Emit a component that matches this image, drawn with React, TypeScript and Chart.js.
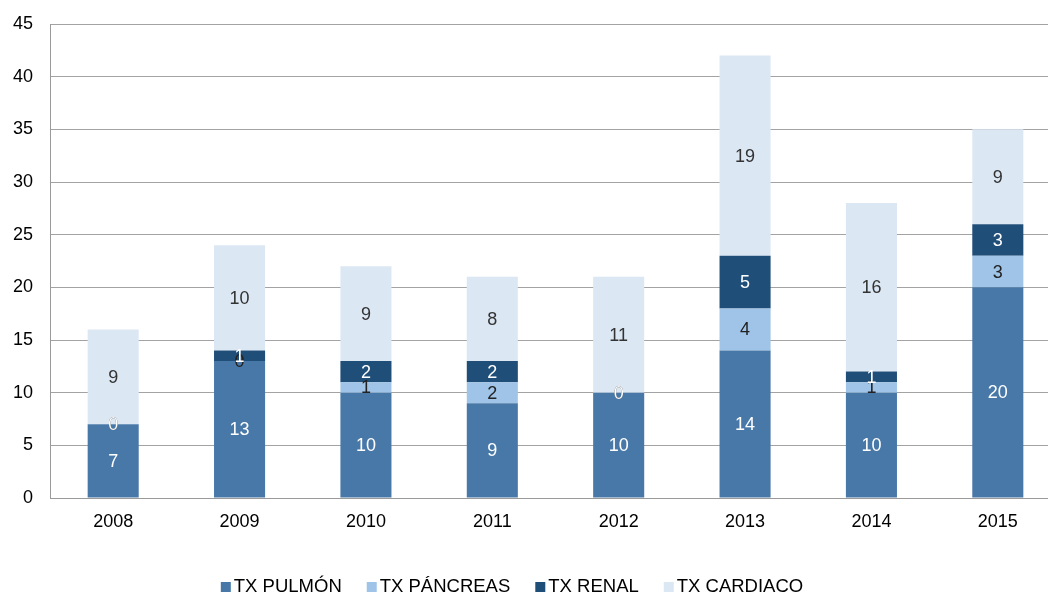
import React, { useEffect, useRef } from "react";
import { Chart, registerables } from "chart.js";

Chart.register(...registerables);

const years = ["2008", "2009", "2010", "2011", "2012", "2013", "2014", "2015"];
const pulmon = [7, 13, 10, 9, 10, 14, 10, 20];
const pancreas = [0, 0, 1, 2, 0, 4, 1, 3];
const renal = [0, 1, 2, 2, 0, 5, 1, 3];
const cardiaco = [9, 10, 9, 8, 11, 19, 16, 9];
const seriesNames = ["TX PULMÓN", "TX PÁNCREAS", "TX RENAL", "TX CARDIACO"];
const seriesColors = ["#4878A8", "#9FC4E7", "#1F4E79", "#DCE7F4"];
const labelColors = ["#ffffff", "#222222", "#ffffff", "#333333"];
const yTicks = [0, 5, 10, 15, 20, 25, 30, 35, 40, 45];

const FONT = "'Liberation Sans', Arial, Helvetica, sans-serif";

const valueLabels = {
  id: "valueLabels",
  afterDatasetsDraw(chart: any) {
    const ctx = chart.ctx;
    ctx.save();
    ctx.font = `18px ${FONT}`;
    ctx.textAlign = "center";
    ctx.textBaseline = "middle";
    chart.data.datasets.forEach((ds: any, di: number) => {
      const meta = chart.getDatasetMeta(di);
      meta.data.forEach((el: any, i: number) => {
        const c = el.getCenterPoint();
        ctx.fillStyle = labelColors[di];
        ctx.fillText(String(ds.data[i]), c.x, c.y + 1);
      });
    });
    ctx.restore();
  },
};

const customLegend = {
  id: "customLegend",
  afterDraw(chart: any) {
    const ctx = chart.ctx;
    ctx.save();
    ctx.font = `18.5px ${FONT}`;
    ctx.textBaseline = "middle";
    ctx.textAlign = "left";
    const box = 10;
    const gap = 3;
    const spacing = 25;
    const widths = chart.data.datasets.map(
      (ds: any) => box + gap + ctx.measureText(ds.label).width
    );
    const total =
      widths.reduce((a: number, b: number) => a + b, 0) + spacing * (widths.length - 1);
    let x = 512 - total / 2;
    const y = 587;
    chart.data.datasets.forEach((ds: any, i: number) => {
      ctx.fillStyle = ds.backgroundColor;
      ctx.fillRect(x, y - box / 2, box, box);
      ctx.fillStyle = "#000000";
      ctx.fillText(ds.label, x + box + gap, y);
      x += widths[i] + spacing;
    });
    ctx.restore();
  },
};

export default function App() {
  const ref = useRef<HTMLCanvasElement>(null);
  useEffect(() => {
    if (!ref.current) return;
    const seriesData = [pulmon, pancreas, renal, cardiaco];
    const chart = new Chart(ref.current, {
      type: "bar",
      data: {
        labels: years,
        datasets: seriesData.map((d, i) => ({
          label: seriesNames[i],
          data: d,
          backgroundColor: seriesColors[i],
          borderWidth: 0,
          categoryPercentage: 1,
          barPercentage: 0.404,
        })),
      },
      plugins: [valueLabels, customLegend],
      options: {
        responsive: false,
        animation: false,
        layout: { padding: { top: 24, left: 0, right: 0, bottom: 56 } },
        plugins: {
          legend: { display: false },
          tooltip: { enabled: false },
        },
        scales: {
          x: {
            stacked: true,
            grid: { display: false, drawTicks: false },
            border: { display: true, color: "#9a9a9a", width: 1 },
            ticks: { color: "#000000", font: { family: FONT, size: 18 }, padding: 13 },
            afterFit: (s: any) => {
              s.height = 40;
              s.paddingLeft = 0;
              s.paddingRight = 0;
            },
          },
          y: {
            stacked: true,
            min: 0,
            max: 45,
            afterBuildTicks: (s: any) => {
              s.ticks = yTicks.map((v) => ({ value: v }));
            },
            grid: { color: "#a3a3a3", lineWidth: 1, drawTicks: false },
            border: { display: true, color: "#9a9a9a", width: 1 },
            ticks: { color: "#000000", font: { family: FONT, size: 18 }, padding: 17 },
            afterFit: (s: any) => {
              s.width = 50;
              s.paddingTop = 0;
              s.paddingBottom = 0;
            },
          },
        },
      },
    });
    return () => chart.destroy();
  }, []);
  return (
    <div style={{ position: "fixed", left: 0, top: 0, width: 1048, height: 594, overflow: "hidden", background: "#fff" }}>
      <canvas ref={ref} width={1061} height={594} style={{ display: "block" }} />
    </div>
  );
}
